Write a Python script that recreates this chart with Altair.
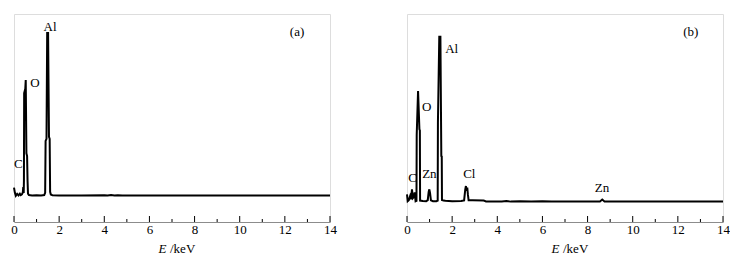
import altair as alt
import pandas as pd

# ---------------- data ----------------
a_E = [0.00, 0.04, 0.08, 0.14, 0.20, 0.26, 0.30, 0.35, 0.39, 0.41, 0.43, 0.44, 0.45, 0.50, 0.52,
       0.55, 0.58, 0.60, 0.62, 0.66, 0.80, 1.00, 1.20, 1.34, 1.38, 1.40, 1.44, 1.47, 1.51, 1.55,
       1.58, 1.60, 1.63, 1.70, 2.0, 3.0, 4.0, 4.15, 4.3, 4.45, 4.6, 4.8, 6.0, 8.0, 10.0, 12.0, 14.0]
a_I = [16.5, 14.0, 12.6, 13.5, 12.8, 13.6, 12.9, 13.3, 14.2, 16.8, 14.0, 20.0, 62.0, 64.0, 68.3,
       33.0, 31.7, 20.0, 13.6, 13.0, 12.8, 12.9, 12.8, 13.0, 14.0, 39.0, 40.0, 90.9, 90.9, 41.0,
       40.0, 14.5, 13.2, 12.9, 12.8, 12.8, 12.9, 12.7, 13.0, 12.7, 12.9, 12.8, 12.8, 12.8, 12.8, 12.8, 12.8]

b_E = [0.00, 0.03, 0.08, 0.14, 0.18, 0.22, 0.26, 0.30, 0.34, 0.38, 0.42, 0.43, 0.49, 0.55, 0.57,
       0.58, 0.70, 0.85, 0.92, 0.96, 0.99, 1.02, 1.06, 1.15, 1.30, 1.36, 1.37, 1.43, 1.48, 1.52,
       1.54, 1.55, 1.62, 1.70, 2.0, 2.4, 2.53, 2.58, 2.61, 2.64, 2.67, 2.70, 2.73, 2.9, 3.4, 3.5,
       4.2, 4.4, 4.6, 5.0, 5.5, 6.0, 6.4, 7.0, 8.0, 8.55, 8.65, 8.75, 9.0, 10.0, 12.0, 14.0]
b_I = [13.3, 10.0, 10.5, 12.5, 11.0, 15.7, 11.5, 12.0, 14.2, 10.0, 10.2, 41.8, 63.0, 44.6, 44.0,
       10.3, 10.1, 10.0, 10.5, 14.5, 15.7, 14.0, 10.4, 10.0, 10.0, 10.3, 47.7, 89.1, 89.1, 31.7,
       31.5, 10.6, 10.3, 10.2, 10.0, 10.1, 10.4, 15.5, 17.3, 15.0, 16.5, 13.0, 10.4, 10.4, 10.3, 9.9,
       9.9, 10.1, 9.8, 10.0, 9.8, 10.0, 9.8, 9.9, 9.9, 9.9, 10.8, 9.9, 9.9, 9.9, 9.9, 9.9]

a_lab = ["Al", "O", "C", "(a)"]
a_lab_E = [1.60, 0.93, 0.19, 12.54]
a_lab_I = [93.9, 66.8, 27.9, 91.3]

b_lab = ["Al", "O", "C", "Zn", "Cl", "Zn", "(b)"]
b_lab_E = [1.98, 0.87, 0.25, 0.99, 2.76, 8.64, 12.57]
b_lab_I = [83.2, 55.3, 21.2, 23.1, 23.1, 16.3, 91.3]

major_ticks = [0, 2, 4, 6, 8, 10, 12, 14]
minor_ticks = [1, 3, 5, 7, 9, 11, 13]

FONT = "Liberation Serif, Times New Roman, serif"
GRAY = "#8c8c8c"
W, H = 316, 208

xscale = alt.Scale(domain=[0, 14], nice=False, zero=False)
yscale = alt.Scale(domain=[0, 100], nice=False, zero=False)
xaxis = alt.Axis(values=major_ticks, tickSize=0, labelFont=FONT, labelFontSize=13,
                 labelColor="black", labelPadding=1, domainColor=GRAY, grid=False,
                 title=None, labelFlush=False)


def panel(E, I, labs, labE, labI):
    spec = pd.DataFrame({"E": E, "I": I})
    labels = pd.DataFrame({"E": labE, "I": labI, "t": labs})
    maj = pd.DataFrame({"E": major_ticks})
    mnr = pd.DataFrame({"E": minor_ticks})

    line = alt.Chart(spec).mark_line(color="black", strokeWidth=2, interpolate="linear").encode(
        x=alt.X("E:Q", scale=xscale, axis=xaxis),
        y=alt.Y("I:Q", scale=yscale, axis=None),
    )
    tmaj = alt.Chart(maj).mark_rule(color="black", strokeWidth=1).encode(
        x=alt.X("E:Q", scale=xscale), y=alt.value(H), y2=alt.value(H - 6))
    tmin = alt.Chart(mnr).mark_rule(color="black", strokeWidth=1).encode(
        x=alt.X("E:Q", scale=xscale), y=alt.value(H), y2=alt.value(H - 3))
    txt = alt.Chart(labels).mark_text(font=FONT, fontSize=13, color="black",
                                      baseline="middle", align="center").encode(
        x=alt.X("E:Q", scale=xscale), y=alt.Y("I:Q", scale=yscale), text="t:N")
    tE = alt.Chart(pd.DataFrame({"t": ["E"]})).mark_text(
        font=FONT, fontSize=13, fontStyle="italic", align="right", baseline="middle",
        color="black").encode(x=alt.value(152.5), y=alt.value(235), text="t:N")
    tK = alt.Chart(pd.DataFrame({"t": ["/keV"]})).mark_text(
        font=FONT, fontSize=13, align="left", baseline="middle",
        color="black").encode(x=alt.value(156), y=alt.value(235), text="t:N")
    return alt.layer(line, tmaj, tmin, txt, tE, tK).properties(width=W, height=H)


pa = panel(a_E, a_I, a_lab, a_lab_E, a_lab_I)
pb = panel(b_E, b_I, b_lab, b_lab_E, b_lab_I)

chart = alt.hconcat(pa, pb, spacing=77, bounds="flush").properties(
    padding={"left": 9, "top": 13, "right": 0, "bottom": 0},
).configure_view(stroke=GRAY, strokeWidth=1).configure(background="white")

chart.save("out.html", embed_options={"renderer": "svg", "actions": False})
